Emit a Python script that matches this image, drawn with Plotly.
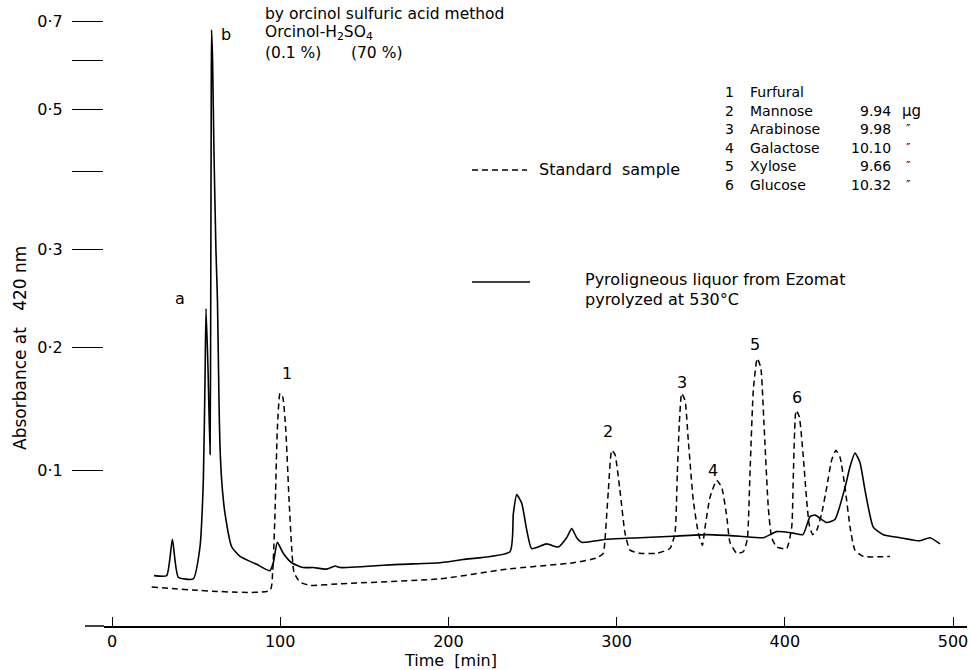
import numpy as np
import plotly.graph_objects as go

# ---- data (time in min, absorbance at 420 nm) ----
time_liquor = [25.0, 32.5, 35.9, 39.4, 48.3, 52.3, 54.3, 55.3, 55.9, 57.1, 58.3, 58.7, 59.0, 59.2,
               59.8, 60.6, 61.8, 62.7, 63.6, 64.2, 65.4, 67.2, 71.2, 76.1, 86.0, 93.9, 95.9, 98.3,
               101.8, 106.8, 113.6, 119.5, 127.6, 132.6, 135.6, 171.2, 195.0, 208.7, 236.6, 238.6,
               240.6, 243.6, 246.6, 249.5, 258.4, 265.3, 270.3, 273.3, 276.3, 279.3, 294.1, 313.9,
               333.5, 353.6, 373.4, 387.2, 395.2, 405.1, 410.8, 415.0, 418.0, 424.9, 429.8, 435.8,
               438.8, 441.7, 444.7, 447.7, 452.6, 458.6, 468.5, 480.4, 486.3, 492.3]
abs_liquor = [0.030, 0.030, 0.053, 0.029, 0.028, 0.048, 0.093, 0.171, 0.237, 0.180, 0.112, 0.245, 0.518, 0.677,
              0.601, 0.432, 0.299, 0.245, 0.154, 0.118, 0.090, 0.070, 0.048, 0.042, 0.037, 0.033, 0.038, 0.051,
              0.044, 0.038, 0.035, 0.035, 0.034, 0.036, 0.035, 0.037, 0.038, 0.040, 0.045, 0.070,
              0.083, 0.077, 0.059, 0.047, 0.050, 0.048, 0.054, 0.060, 0.054, 0.051, 0.053, 0.054,
              0.055, 0.056, 0.055, 0.054, 0.058, 0.057, 0.056, 0.068, 0.069, 0.064, 0.066, 0.088,
              0.103, 0.113, 0.106, 0.086, 0.061, 0.056, 0.054, 0.052, 0.054, 0.050]

time_standard = [23.6, 93.9, 95.5, 96.9, 98.3, 99.9, 101.5, 103.3, 105.2, 106.8, 108.2, 111.8, 117.7, 135.6,
                 195.0, 234.7, 274.3, 288.2, 292.1, 293.1, 295.1, 297.1, 299.0, 302.0, 305.0, 308.0,
                 313.9, 323.8, 331.7, 334.7, 336.1, 337.3, 338.7, 340.7, 342.6, 345.6, 348.6, 351.0,
                 352.6, 355.5, 359.5, 362.5, 365.5, 367.4, 371.4, 375.3, 377.7, 379.3, 381.3, 383.6,
                 385.7, 387.6, 390.2, 392.2, 395.2, 401.1, 404.1, 405.1, 406.7, 408.6, 411.0, 413.0,
                 414.6, 416.6, 419.0, 421.9, 424.9, 427.9, 430.4, 432.8, 435.8, 438.8, 441.7, 446.7, 462.5]
abs_standard = [0.023, 0.021, 0.032, 0.070, 0.131, 0.160, 0.157, 0.131, 0.081, 0.048, 0.032, 0.026, 0.024, 0.025,
                0.028, 0.034, 0.038, 0.041, 0.044, 0.053, 0.086, 0.115, 0.112, 0.086, 0.057, 0.046,
                0.044, 0.044, 0.047, 0.057, 0.098, 0.136, 0.160, 0.154, 0.123, 0.079, 0.057, 0.049,
                0.061, 0.081, 0.093, 0.088, 0.068, 0.051, 0.044, 0.045, 0.053, 0.098, 0.163, 0.190,
                0.182, 0.136, 0.074, 0.054, 0.048, 0.047, 0.061, 0.098, 0.146, 0.141, 0.110, 0.079,
                0.062, 0.056, 0.059, 0.070, 0.088, 0.108, 0.115, 0.110, 0.088, 0.061, 0.046, 0.042, 0.042]

abs_major_ticks = [0.1, 0.2, 0.3, 0.5, 0.7]
abs_major_text = ["0·1", "0·2", "0·3", "0·5", "0·7"]
abs_minor_ticks = [0.4, 0.6]
time_ticks = [0, 100, 200, 300, 400, 500]

compound_no = ["1", "2", "3", "4", "5", "6"]
compound_name = ["Furfural", "Mannose", "Arabinose", "Galactose", "Xylose", "Glucose"]
compound_amount = ["", "9.94", "9.98", "10.10", "9.66", "10.32"]
compound_unit = ["", "\u03bcg", "\u2033", "\u2033", "\u2033", "\u2033"]


def to_axis(a):
    # the chart paper is linear in transmittance: plot the absorbed fraction 1 - 10^-A
    return 1.0 - 10.0 ** (-np.asarray(a, dtype=float))


W, H = 973, 670
L, R, T, B = 104, 967, 0, 626


def pxx(x):
    return (x - L) / (R - L)


def pxy(y):
    return (B - y) / (B - T)


fig = go.Figure()
fig.add_trace(go.Scatter(x=time_standard, y=to_axis(abs_standard), mode="lines",
                         line=dict(color="black", width=1.5, dash="6px,4px", shape="spline", smoothing=0.5),
                         name="Standard sample", showlegend=False))
fig.add_trace(go.Scatter(x=time_liquor, y=to_axis(abs_liquor), mode="lines",
                         line=dict(color="black", width=1.6, shape="spline", smoothing=0.5),
                         name="Pyroligneous liquor", showlegend=False))

x0 = -(112 - L) / 1.682
x1 = (R - 112) / 1.682
ymax = B / 755.0

fig.update_xaxes(range=[x0, x1], showgrid=False, zeroline=False, showline=True,
                 linecolor="black", linewidth=1.5, ticks="inside", ticklen=9, tickwidth=1.3,
                 tickcolor="black", tickvals=time_ticks,
                 tickfont=dict(family="DejaVu Sans", size=16, color="black"))
fig.update_yaxes(range=[0, ymax], showgrid=False, zeroline=False, showline=False,
                 ticks="outside", ticklen=31, tickwidth=1.4, tickcolor="black",
                 tickvals=list(to_axis(abs_major_ticks)), ticktext=abs_major_text, ticklabelstandoff=6,
                 tickfont=dict(family="DejaVu Sans", size=16, color="black"),
                 minor=dict(tickmode="array", tickvals=list(to_axis(abs_minor_ticks)),
                            ticks="outside", ticklen=31, tickwidth=1.4, tickcolor="black", showgrid=False))

shapes = [
    dict(type="line", xref="paper", yref="paper", x0=pxx(85), x1=0, y0=0, y1=0,
         line=dict(color="black", width=1.5)),
    dict(type="line", xref="paper", yref="paper", x0=pxx(472), x1=pxx(527), y0=pxy(170), y1=pxy(170),
         line=dict(color="black", width=1.4, dash="6px,4px")),
    dict(type="line", xref="paper", yref="paper", x0=pxx(472), x1=pxx(530), y0=pxy(282), y1=pxy(282),
         line=dict(color="black", width=1.4)),
]

ann = []


def text(x, y, s, size=14, family="DejaVu Sans", xanchor="left", angle=0):
    ann.append(dict(xref="paper", yref="paper", x=pxx(x), y=pxy(y), text=s, showarrow=False,
                    xanchor=xanchor, yanchor="middle", textangle=angle,
                    font=dict(family=family, size=size, color="black")))


text(263, 14, "by orcinol sulfuric acid method", 15.5)
text(263, 33, "Orcinol-H<sub>2</sub>SO<sub>4</sub>", 15.5)
text(263, 53, "(0.1 %)\u00a0\u00a0\u00a0\u00a0\u00a0\u00a0(70 %)", 15.5)
text(537, 170, "Standard\u00a0 sample", 16)
text(583, 279, "Pyroligneous liquor from Ezomat", 16)
text(583, 299, "pyrolyzed at 530\u00b0C", 16)

rows_y = [92, 111, 129, 148, 166, 185]
for i in range(len(compound_no)):
    yy = rows_y[i]
    text(729, yy, compound_no[i], 14, "DejaVu Sans", "center")
    text(748, yy, compound_name[i], 14, "DejaVu Sans")
    if compound_amount[i]:
        text(893, yy, compound_amount[i], 14, "DejaVu Sans", "right")
    if compound_unit[i]:
        text(900 if i == 1 else 904, yy, compound_unit[i], 15 if i == 1 else 12, "DejaVu Sans")

peak_labels = [("a", 180, 298), ("b", 226, 34), ("1", 287, 373), ("2", 608, 431),
               ("3", 682, 382), ("4", 713, 470), ("5", 755, 344), ("6", 797, 397)]
for s, x, y in peak_labels:
    text(x, y, s, 16, "DejaVu Sans", "center")

text(450, 660, "Time\u00a0\u00a0[min]", 16, "DejaVu Sans", "center")
ann.append(dict(xref="paper", yref="paper", x=pxx(20), y=pxy(348), xanchor="center", yanchor="middle",
                text="Absorbance\u00a0at\u00a0\u00a0\u00a0420\u00a0nm", textangle=-90, showarrow=False,
                font=dict(family="DejaVu Sans", size=17, color="black")))

fig.update_layout(width=W, height=H, margin=dict(l=L, r=W - R, t=T, b=H - B),
                  paper_bgcolor="white", plot_bgcolor="white", showlegend=False,
                  shapes=shapes, annotations=ann)

fig.write_html("out.html")
